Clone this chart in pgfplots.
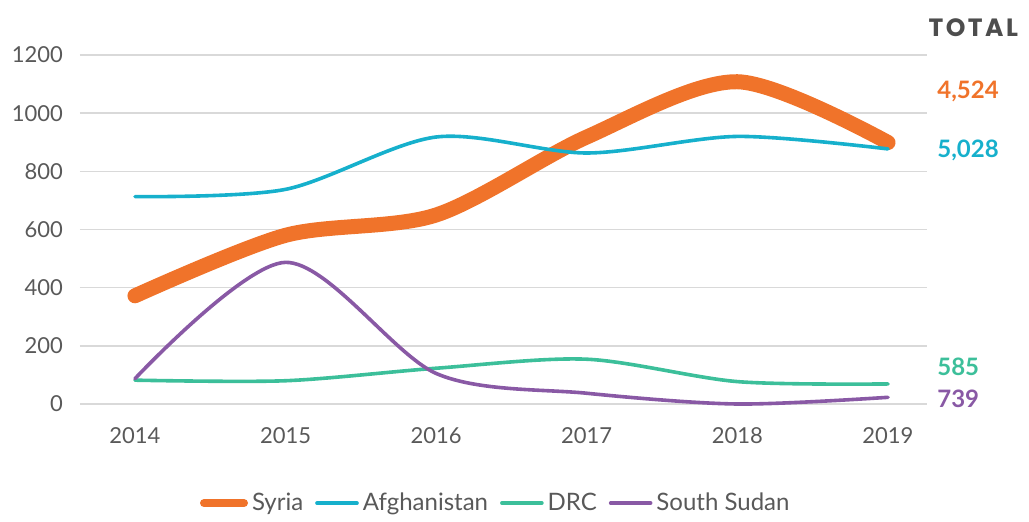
\documentclass[border=0pt]{standalone}
\usepackage{pgfplots}
\pgfplotsset{compat=1.18}
\usepackage{fontspec}
\setmainfont{Lato}
\newfontfamily\totalfont[LetterSpace=10]{Poppins}
\definecolor{syria}{HTML}{F0732A}
\definecolor{afgh}{HTML}{16B0CC}
\definecolor{drc}{HTML}{3CBF9A}
\definecolor{ssudan}{HTML}{8959A5}
\definecolor{gridgray}{HTML}{D9D9D9}
\definecolor{ticktext}{HTML}{595959}
\definecolor{totalgray}{HTML}{4D4D4D}
\begin{document}
\begin{tikzpicture}
\begin{axis}[
  scale only axis, width=423.5pt, height=174.5pt,
  xmin=2013.635, xmax=2019.259, ymin=0, ymax=1200,
  clip=false,
  axis line style={draw=none}, major tick length=0pt,
  xtick={2014,...,2019}, ytick={0,200,...,1200},
  ymajorgrids, grid style={line width=0.8pt, color=gridgray},
  tick label style={font=\fontsize{11}{13}\selectfont, text=ticktext},
  /pgf/number format/assume math mode=true,
  /pgf/number format/1000 sep={},
  xticklabel style={yshift=-8pt},
  yticklabel style={xshift=-5pt},
  legend style={at={(0.492,-0.284)}, anchor=center, draw=none, fill=none,
    legend columns=4, font=\fontsize{12}{14}\selectfont, text=ticktext,
    /tikz/every even column/.append style={column sep=4pt}},
  legend image code/.code={\draw[#1, line cap=round] (0pt,0pt) -- (20pt,0pt);},
]
\addplot[syria, line width=7.5pt, smooth, line cap=round, forget plot] coordinates {
  (2014,372) (2015,580) (2016,650) (2017,918) (2018,1108) (2019,899)};
\addplot[afgh, line width=1.8pt, smooth, line cap=round, forget plot] coordinates {
  (2014,713) (2015,738) (2016,918) (2017,863) (2018,920) (2019,877)};
\addplot[drc, line width=1.8pt, smooth, line cap=round, forget plot] coordinates {
  (2014,82) (2015,80) (2016,123) (2017,154) (2018,77) (2019,69)};
\addplot[ssudan, line width=1.8pt, smooth, line cap=round, forget plot] coordinates {
  (2014,87) (2015,487) (2016,105) (2017,37) (2018,0) (2019,23)};
\addlegendimage{syria, line width=4pt}
\addlegendentry{Syria}
\addlegendimage{afgh, line width=1.8pt}
\addlegendentry{Afghanistan}
\addlegendimage{drc, line width=1.8pt}
\addlegendentry{DRC}
\addlegendimage{ssudan, line width=1.8pt}
\addlegendentry{South Sudan}
\node[anchor=west, inner sep=0pt, text=totalgray, font=\totalfont\bfseries\fontsize{12.5}{14}\selectfont] at (axis cs:2019.266,1293) {TOTAL};
\node[anchor=west, inner sep=0pt, text=syria, font=\bfseries\fontsize{12}{14}\selectfont] at (axis cs:2019.325,1073) {4,524};
\node[anchor=west, inner sep=0pt, text=afgh, font=\bfseries\fontsize{12}{14}\selectfont] at (axis cs:2019.325,873) {5,028};
\node[anchor=west, inner sep=0pt, text=drc, font=\bfseries\fontsize{12}{14}\selectfont] at (axis cs:2019.325,127) {585};
\node[anchor=west, inner sep=0pt, text=ssudan, font=\bfseries\fontsize{12}{14}\selectfont] at (axis cs:2019.325,17) {739};
\path (axis cs:2013.104,-385) rectangle (axis cs:2019.936,1389);
\end{axis}
\end{tikzpicture}
\end{document}
